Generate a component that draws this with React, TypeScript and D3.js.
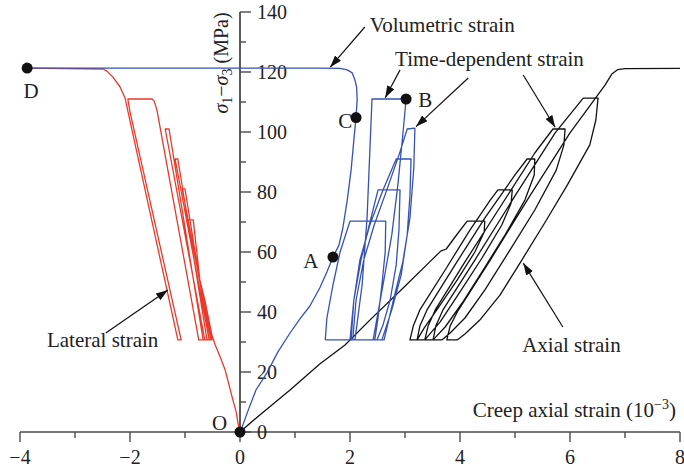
import React from "react";
import * as d3 from "d3";

const W = 684;
const H = 472;

// axes
const xMajor = [-4, -2, 0, 2, 4, 6, 8];
const xMinor = [-3, -1, 1, 3, 5, 7];
const yMajor = [0, 20, 40, 60, 80, 100, 120, 140];
const yMinor = [10, 30, 50, 70, 90, 110, 130];

// volumetric strain, main curve O -> A -> C -> D
const volumetricMain: [number, number][] = [
  [0, 0], [0.04, 1.7], [0.15, 7.3], [0.29, 14], [0.49, 19.7], [0.69, 26.7], [0.91, 33],
  [1.09, 37.7], [1.27, 42], [1.45, 48], [1.58, 53.3], [1.69, 58.3], [1.8, 62.3], [1.87, 68],
  [1.95, 77.3], [2.02, 87.3], [2.07, 97.3], [2.11, 105], [2.13, 110.7], [2.12, 115],
  [2.09, 117.3], [2.04, 119.7], [1.95, 120.7], [1.82, 121.2], [1.45, 121.3], [-3.87, 121.3],
];

// volumetric strain, loading / creep / unloading cycles
const volumetricCycles: [number, number][] = [
  [1.55, 30.7], [1.58, 38], [1.69, 49], [1.82, 60], [2.0, 70.3], [2.65, 70.3], [2.64, 60],
  [2.58, 49], [2.51, 38], [2.45, 30.7], [2.0, 30.7],
  [2.07, 44], [2.2, 57.3], [2.35, 69], [2.51, 80.7], [2.91, 80.7], [2.89, 67.3], [2.84, 55.7],
  [2.73, 44], [2.6, 35.7], [2.49, 30.7], [2.02, 30.7],
  [2.07, 44], [2.18, 57.3], [2.36, 69], [2.6, 80.7], [2.84, 91], [3.11, 91], [3.09, 79],
  [3.04, 65.7], [2.93, 52.3], [2.76, 40.7], [2.58, 30.7], [2.05, 30.7],
  [2.11, 44], [2.25, 57.3], [2.44, 69], [2.67, 80.7], [2.89, 92.3], [3.04, 101], [3.18, 101.3],
  [3.16, 88], [3.09, 71.3], [2.96, 56.7], [2.78, 43.3], [2.62, 30.7], [2.09, 30.7],
  [2.22, 49], [2.31, 71.3], [2.36, 93.3], [2.4, 111], [3.02, 111], [2.96, 99], [2.87, 82.3],
  [2.76, 65.7], [2.6, 49], [2.42, 30.7], [1.55, 30.7],
];

// axial strain
const axialStrain: [number, number][] = [
  [0, 0], [0.36, 5.7], [0.91, 14], [1.45, 22.7], [1.91, 29], [2.36, 37.3], [2.91, 47],
  [3.45, 56.7], [3.65, 60.3], [3.75, 61], [3.91, 65], [4.13, 70.3], [4.45, 70.3],
  [4.44, 66.7], [4.27, 60], [3.95, 50.7], [3.6, 41.3], [3.35, 34.7], [3.22, 30.7], [3.09, 30.7],
  [3.15, 35.3], [3.27, 40.7], [3.73, 54], [4.18, 67.3], [4.55, 77.3], [4.69, 80.7], [4.95, 80.7],
  [4.93, 76.3], [4.76, 69], [4.4, 58], [4.0, 46.7], [3.64, 36.7], [3.36, 30.7], [3.22, 30.7],
  [3.27, 35.3], [3.4, 40.7], [3.91, 55.7], [4.45, 71.3], [5.0, 85.7], [5.22, 91], [5.36, 91],
  [5.35, 85.7], [5.18, 77.3], [4.82, 65.7], [4.42, 54], [4.04, 43], [3.73, 35], [3.51, 30.7], [3.36, 30.7],
  [3.42, 35.3], [3.55, 40.7], [4.09, 56.7], [4.73, 75], [5.36, 93], [5.69, 101], [5.91, 101],
  [5.89, 95.7], [5.75, 87.3], [5.36, 74], [4.91, 60.7], [4.45, 47.3], [4.09, 38], [3.82, 33], [3.67, 30.7], [3.51, 30.7],
  [3.56, 35.3], [3.69, 40.7], [4.27, 57.3], [5.0, 78.7], [5.73, 99.7], [6.24, 111.3], [6.51, 111.3],
  [6.47, 104], [6.36, 95.7], [5.95, 82.3], [5.55, 70], [5.09, 56.3], [4.73, 45.7], [4.36, 37.3], [4.09, 32.7], [3.95, 30.7], [3.76, 30.7],
  [3.82, 35.3], [3.95, 40], [4.55, 57.3], [5.27, 78.7], [6.0, 99.7], [6.64, 115.7], [6.76, 119.3],
  [6.87, 120.8], [7.0, 121.1], [8.0, 121.2],
];

// lateral strain
const lateralStrain: [number, number][] = [
  [0, 0], [-0.04, 3.3], [-0.07, 6.7], [-0.13, 10.7], [-0.2, 15.7], [-0.27, 20.7], [-0.36, 25],
  [-0.45, 29], [-0.51, 32.3], [-0.64, 44], [-0.73, 50.7], [-0.85, 70.7], [-0.95, 70.7],
  [-0.51, 30.7], [-0.56, 30.7], [-1.0, 81], [-1.05, 81],
  [-0.53, 30.7], [-0.6, 30.7], [-1.13, 91], [-1.18, 91],
  [-0.56, 30.7], [-0.67, 30.7], [-1.29, 101], [-1.36, 101],
  [-0.64, 30.7], [-0.75, 30.7], [-1.51, 107.3], [-1.56, 110.3], [-1.6, 111], [-2.04, 111],
  [-2.0, 106.7], [-1.07, 30.7], [-1.13, 30.7], [-2.09, 111.3], [-2.18, 115], [-2.31, 118.3],
  [-2.42, 120.3], [-2.49, 121], [-3.87, 121.3],
];

// marked points
const pointNames = ["O", "A", "C", "B", "D"];
const pointX = [0, 1.69, 2.11, 3.02, -3.87];
const pointY = [0, 58.3, 104.8, 111, 121.3];
// label anchor (data units) for each marked point
const pointLabelX = [-0.51, 1.15, 2.04, 3.24, -3.8];
const pointLabelY = [0.7, 54.7, 101.3, 108.3, 111.3];
const pointLabelAnchor = ["start", "start", "end", "start", "middle"];

// annotation arrows: from -> to, data units
const arrowFrom: [number, number][] = [[2.27, 135], [2.91, 120.7], [4.15, 118], [5.15, 119], [5.87, 35], [-2.44, 33]];
const arrowTo: [number, number][] = [[1.64, 121.6], [2.64, 111.4], [3.2, 101.8], [5.73, 101.6], [5.15, 56.3], [-1.31, 47.3]];

const noteText = ["Volumetric strain", "Time-dependent strain", "Axial strain", "Lateral strain"];
const noteX = [2.36, 2.82, 5.13, -3.51];
const noteY = [133.3, 122, 26.7, 28.5];

const FONT = "'Liberation Serif', 'Times New Roman', serif";
const AXIS = "#4a4a4a";
const BLUE = "#3552b4";
const RED = "#e8392a";

export default function App() {
  const x = d3.scaleLinear().domain([-4, 8]).range([20, 680]);
  const y = d3.scaleLinear().domain([0, 140]).range([432, 12]);
  const line = d3
    .line<[number, number]>()
    .x((d) => x(d[0]))
    .y((d) => y(d[1]));

  return (
    <svg
      width={W}
      height={H}
      style={{ position: "absolute", left: 0, top: 0, background: "#fff" }}
      fontFamily={FONT}
    >
      <defs>
        <marker
          id="ah"
          viewBox="0 0 12 8"
          refX="12"
          refY="4"
          markerWidth="12"
          markerHeight="8"
          markerUnits="userSpaceOnUse"
          orient="auto"
        >
          <path d="M0,0 L12,4 L0,8 z" fill="#111" />
        </marker>
      </defs>

      {/* x axis */}
      <line x1={x(-4)} x2={x(8)} y1={y(0)} y2={y(0)} stroke={AXIS} strokeWidth={1.6} />
      {xMajor.map((t) => (
        <g key={"xm" + t}>
          <line x1={x(t)} x2={x(t)} y1={y(0)} y2={y(0) + 10} stroke={AXIS} strokeWidth={1.4} />
          <text x={x(t)} y={464} fontSize={20} textAnchor="middle" fill="#222">
            {t < 0 ? "\u2212" + Math.abs(t) : t}
          </text>
        </g>
      ))}
      {xMinor.map((t) => (
        <line key={"xn" + t} x1={x(t)} x2={x(t)} y1={y(0)} y2={y(0) + 6} stroke={AXIS} strokeWidth={1.4} />
      ))}

      {/* y axis */}
      <line x1={x(0)} x2={x(0)} y1={y(0)} y2={y(140)} stroke={AXIS} strokeWidth={1.8} />
      {yMajor.map((t) => (
        <g key={"ym" + t}>
          <line x1={x(0)} x2={x(0) + 11} y1={y(t)} y2={y(t)} stroke={AXIS} strokeWidth={1.4} />
          <text x={x(0) + 17} y={y(t) + 7} fontSize={20} fill="#222">
            {t}
          </text>
        </g>
      ))}
      {yMinor.map((t) => (
        <line key={"yn" + t} x1={x(0)} x2={x(0) + 6} y1={y(t)} y2={y(t)} stroke={AXIS} strokeWidth={1.4} />
      ))}

      {/* axis titles */}
      <text transform={`translate(228,63) rotate(-90)`} fontSize={20} textAnchor="middle" fill="#222">
        <tspan fontStyle="italic">σ</tspan>
        <tspan dy={4} fontSize={14}>1</tspan>
        <tspan dy={-4}>−</tspan>
        <tspan fontStyle="italic">σ</tspan>
        <tspan dy={4} fontSize={14}>3</tspan>
        <tspan dy={-4}> (MPa)</tspan>
      </text>
      <text x={676} y={417} fontSize={21} textAnchor="end" fill="#222">
        Creep axial strain (10
        <tspan dy={-8} fontSize={14}>−3</tspan>
        <tspan dy={8}>)</tspan>
      </text>

      {/* curves */}
      <path d={line(axialStrain) ?? ""} fill="none" stroke="#111" strokeWidth={1.3} strokeLinejoin="round" />
      <path d={line(lateralStrain) ?? ""} fill="none" stroke={RED} strokeWidth={1.3} strokeLinejoin="round" />
      <path d={line(volumetricCycles) ?? ""} fill="none" stroke={BLUE} strokeWidth={1.3} strokeLinejoin="round" />
      <path d={line(volumetricMain) ?? ""} fill="none" stroke={BLUE} strokeWidth={1.3} strokeLinejoin="round" />

      {/* arrows */}
      {arrowFrom.map((f, i) => (
        <line
          key={"ar" + i}
          x1={x(f[0])}
          y1={y(f[1])}
          x2={x(arrowTo[i][0])}
          y2={y(arrowTo[i][1])}
          stroke="#111"
          strokeWidth={1.2}
          markerEnd="url(#ah)"
        />
      ))}
      {noteText.map((s, i) => (
        <text key={s} x={x(noteX[i])} y={y(noteY[i])} fontSize={21} fill="#222">
          {s}
        </text>
      ))}

      {/* points */}
      {pointNames.map((n, i) => (
        <g key={n}>
          <circle cx={x(pointX[i])} cy={y(pointY[i])} r={5.5} fill="#111" />
          <text
            x={x(pointLabelX[i])}
            y={y(pointLabelY[i])}
            fontSize={21}
            textAnchor={pointLabelAnchor[i]}
            fill="#222"
          >
            {n}
          </text>
        </g>
      ))}
    </svg>
  );
}
